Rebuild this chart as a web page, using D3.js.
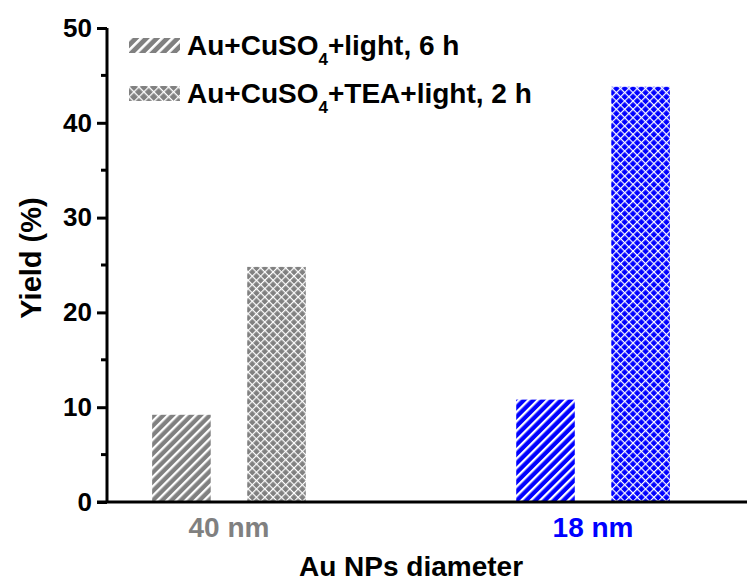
<!DOCTYPE html>
<html>
<head>
<meta charset="utf-8">
<script src="https://cdn.jsdelivr.net/npm/d3@7"></script>
<style>
  body { margin: 0; background: #fff; }
  svg text { font-family: "Liberation Sans", Arial, sans-serif; font-weight: bold; }
</style>
</head>
<body>
<svg id="chart" width="747" height="581"></svg>
<script>
// Data
const categories = ['40 nm', '18 nm'];
const categoryColors = ['#808080', '#0000ff'];
const seriesNames = ['light', 'tea'];
const lightYield = [9.2, 10.8];   // Au+CuSO4+light, 6 h
const teaYield = [24.8, 43.8];    // Au+CuSO4+TEA+light, 2 h
const yTicks = [0, 10, 20, 30, 40, 50];
const yMinorTicks = [5, 15, 25, 35, 45];

const svg = d3.select('#chart');
const plotLeft = 107, plotBottom = 502, plotTop = 28;

const x = d3.scaleBand()
    .domain(categories)
    .range([plotLeft, 715])
    .paddingInner(0.578)
    .paddingOuter(0.124);

const xSub = d3.scaleBand()
    .domain(seriesNames)
    .range([0, x.bandwidth()])
    .paddingInner(0.384)
    .paddingOuter(0);

const y = d3.scaleLinear().domain([0, 50]).range([plotBottom, plotTop]);

// Patterns: hatch + crosshatch per colour (legend ones a bit coarser)
const defs = svg.append('defs');
function addHatch(id, color, s, w) {
    const p = defs.append('pattern')
        .attr('id', id)
        .attr('patternUnits', 'userSpaceOnUse')
        .attr('width', s).attr('height', s)
        .attr('patternTransform', 'rotate(45)');
    p.append('rect').attr('width', s).attr('height', s).attr('fill', color);
    p.append('line')
        .attr('x1', w / 2).attr('y1', 0).attr('x2', w / 2).attr('y2', s)
        .attr('stroke', '#fff').attr('stroke-width', w);
}
function addCross(id, color, s, w) {
    const p = defs.append('pattern')
        .attr('id', id)
        .attr('patternUnits', 'userSpaceOnUse')
        .attr('width', s).attr('height', s)
        .attr('patternTransform', 'rotate(45)');
    p.append('rect').attr('width', s).attr('height', s).attr('fill', color);
    p.append('line')
        .attr('x1', w / 2).attr('y1', 0).attr('x2', w / 2).attr('y2', s)
        .attr('stroke', '#fff').attr('stroke-width', w);
    p.append('line')
        .attr('x1', 0).attr('y1', w / 2).attr('x2', s).attr('y2', w / 2)
        .attr('stroke', '#fff').attr('stroke-width', w);
}
categoryColors.forEach((c, i) => {
    addHatch('hatch' + i, c, 6.6, 2.3);
    addCross('cross' + i, c, 5.9, 1.2);
});
addHatch('legHatch', categoryColors[0], 7.4, 2.6);
addCross('legCross', categoryColors[0], 7, 1.3);

// Bars
const rows = categories.map((c, i) => ({ cat: c, i, light: lightYield[i], tea: teaYield[i] }));
const groups = svg.append('g').selectAll('g')
    .data(rows)
    .join('g')
    .attr('transform', d => `translate(${x(d.cat)},0)`);

groups.append('rect')
    .attr('x', xSub('light'))
    .attr('width', xSub.bandwidth())
    .attr('y', d => y(d.light))
    .attr('height', d => y(0) - y(d.light))
    .attr('fill', d => `url(#hatch${d.i})`);

groups.append('rect')
    .attr('x', xSub('tea'))
    .attr('width', xSub.bandwidth())
    .attr('y', d => y(d.tea))
    .attr('height', d => y(0) - y(d.tea))
    .attr('fill', d => `url(#cross${d.i})`);

// Y axis
const yAxis = svg.append('g')
    .attr('transform', `translate(${plotLeft},0)`)
    .call(d3.axisLeft(y).tickValues(yTicks).tickSize(10).tickPadding(5).tickFormat(d3.format('d')));
yAxis.select('.domain').attr('stroke-width', 3).attr('d', `M0,${plotTop}V${plotBottom}`);
yAxis.selectAll('.tick line').attr('stroke-width', 3);
yAxis.selectAll('.tick text')
    .attr('font-size', 26)
    .attr('font-family', '"Liberation Sans", Arial, sans-serif')
    .attr('font-weight', 'bold')
    .attr('fill', '#000');

svg.append('g')
    .selectAll('line')
    .data(yMinorTicks)
    .join('line')
    .attr('x1', plotLeft - 6).attr('x2', plotLeft)
    .attr('y1', d => y(d)).attr('y2', d => y(d))
    .attr('stroke', '#000').attr('stroke-width', 3);

// X axis
const xAxis = svg.append('g')
    .attr('transform', `translate(0,${plotBottom})`)
    .call(d3.axisBottom(x).tickSize(0).tickPadding(15));
xAxis.select('.domain').remove();
xAxis.selectAll('.tick text')
    .attr('font-size', 28)
    .attr('font-family', '"Liberation Sans", Arial, sans-serif')
    .attr('font-weight', 'bold')
    .attr('fill', (d, i) => categoryColors[i]);
svg.append('line')
    .attr('x1', plotLeft - 10).attr('x2', 747)
    .attr('y1', plotBottom).attr('y2', plotBottom)
    .attr('stroke', '#000').attr('stroke-width', 3);

// Axis titles
svg.append('text')
    .attr('x', 411).attr('y', 576)
    .attr('text-anchor', 'middle')
    .attr('font-size', 28)
    .text('Au NPs diameter');

svg.append('text')
    .attr('transform', `translate(41,${258}) rotate(-90)`)
    .attr('text-anchor', 'middle')
    .attr('font-size', 29)
    .text('Yield (%)');

// Legend
const legendItems = [
    { pat: 'legHatch', pre: 'Au+CuSO', sub: '4', post: '+light, 6 h' },
    { pat: 'legCross', pre: 'Au+CuSO', sub: '4', post: '+TEA+light, 2 h' }
];
const legend = svg.append('g').selectAll('g')
    .data(legendItems)
    .join('g')
    .attr('transform', (d, i) => `translate(129,${38 + i * 48})`);
legend.append('rect')
    .attr('width', 51).attr('height', 15)
    .attr('fill', d => `url(#${d.pat})`);
const lt = legend.append('text')
    .attr('x', 58).attr('y', 17)
    .attr('font-size', 28);
lt.append('tspan').text(d => d.pre);
lt.append('tspan').attr('font-size', 17).attr('dy', 10).text(d => d.sub);
lt.append('tspan').attr('dy', -10).text(d => d.post);
</script>
</body>
</html>
